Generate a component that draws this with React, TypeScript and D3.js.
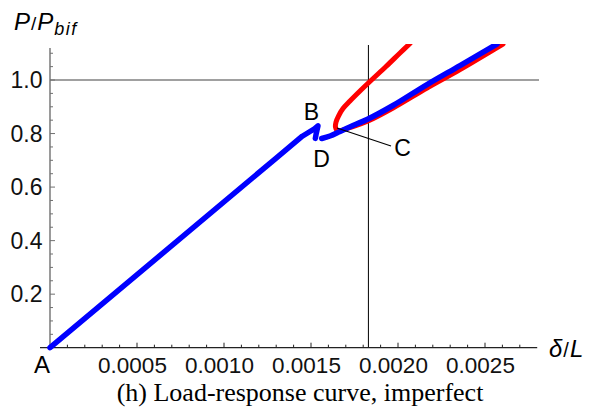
import React from "react";
import * as d3 from "d3";

// values
const xMajorTicks = [0.0005, 0.001, 0.0015, 0.002, 0.0025];
const xTickLabels = ["0.0005", "0.0010", "0.0015", "0.0020", "0.0025"];
const yMajorTicks = [0.2, 0.4, 0.6, 0.8, 1.0];
const yTickLabels = ["0.2", "0.4", "0.6", "0.8", "1.0"];

// blue: primary path A -> B, then snap back to D
const bluePreX = [0, 0.0013, 0.00145, 0.00152, 0.00154, 0.00153, 0.001525];
const bluePreY = [0, 0.7085, 0.79, 0.818, 0.829, 0.8, 0.782];
// blue: after D, through C and beyond
const bluePostX = [0.0015615, 0.0016092, 0.0016667, 0.0017414, 0.0018276, 0.0019713, 0.0021667, 0.0023563, 0.002569];
const bluePostY = [0.7815, 0.7908, 0.8076, 0.83, 0.8543, 0.9048, 0.9832, 1.0542, 1.1345];
// red: secondary branch, upper part down to the nose at C, then the lower part
const redX = [
  0.002069, 0.0020115, 0.001931, 0.0018448, 0.0017816, 0.0017241, 0.0016839, 0.001658, 0.0016437, 0.0016408,
  0.0016523, 0.0017414, 0.0018276, 0.0019713, 0.0021667, 0.0023563, 0.0026034,
];
const redY = [
  1.1364, 1.1009, 1.0504, 0.9981, 0.9589, 0.9216, 0.8935, 0.8655, 0.8431, 0.8244,
  0.8114, 0.8262, 0.8468, 0.8954, 0.9701, 1.0392, 1.1345,
];

const criticalX = 0.00183;
const refLoad = 1.0;

const W = 601;
const H = 416;

export default function App() {
  const x = d3.scaleLinear().domain([0, 0.0028]).range([50, 537.2]);
  const y = d3.scaleLinear().domain([0, 1.12]).range([347.7, 47.9]);

  const xMinor = d3.range(1, 28).map((i) => i * 0.0001);
  const yMinor = d3.range(1, 23).map((i) => i * 0.05);

  const pts = (xs: number[], ys: number[]) => xs.map((v, i) => [v, ys[i]] as [number, number]);
  const lin = d3.line<[number, number]>().x((d) => x(d[0])).y((d) => y(d[1]));
  const smooth = d3
    .line<[number, number]>()
    .x((d) => x(d[0]))
    .y((d) => y(d[1]))
    .curve(d3.curveCatmullRom.alpha(0.5));

  const x0 = x(0);
  const y0 = y(0);
  const sans = "Liberation Sans, Arial, sans-serif";

  return (
    <svg
      width={W}
      height={H}
      style={{ position: "absolute", left: 0, top: 0, background: "#fff" }}
      fontFamily={sans}
    >
      <defs>
        <clipPath id="plot">
          <rect x={x0 - 4} y={44} width={x(0.0028) - x0 + 4} height={y0 - 44 + 4} />
        </clipPath>
      </defs>

      {/* reference lines */}
      <line x1={x0} x2={539} y1={y(refLoad)} y2={y(refLoad)} stroke="#808080" strokeWidth={1.5} />
      <line x1={x(criticalX)} x2={x(criticalX)} y1={45} y2={y0} stroke="#000" strokeWidth={1} />

      {/* axes */}
      <line x1={40} x2={x(0.0028)} y1={y0} y2={y0} stroke="#222" strokeWidth={1.2} />
      <line x1={x0} x2={x0} y1={y(1.12)} y2={y0 + 1} stroke="#707070" strokeWidth={1.4} />

      {xMinor.map((t) => {
        const major = xMajorTicks.some((m) => Math.abs(m - t) < 1e-9);
        return (
          <line key={t} x1={x(t)} x2={x(t)} y1={y0} y2={y0 - (major ? 5 : 3)} stroke="#222" strokeWidth={1} />
        );
      })}
      {yMinor.map((t) => {
        const major = yMajorTicks.some((m) => Math.abs(m - t) < 1e-9);
        return (
          <line key={t} x1={x0} x2={x0 + (major ? 5 : 3)} y1={y(t)} y2={y(t)} stroke="#707070" strokeWidth={1} />
        );
      })}

      {xMajorTicks.map((t, i) => (
        <text key={t} x={x(t) - 4.5} y={372.5} textAnchor="middle" fontSize={22.5} fill="#111">
          {xTickLabels[i]}
        </text>
      ))}
      {yMajorTicks.map((t, i) => (
        <text key={t} x={42.5} y={y(t) + 8} textAnchor="end" fontSize={23} fill="#111">
          {yTickLabels[i]}
        </text>
      ))}

      {/* curves */}
      <g clipPath="url(#plot)" fill="none" strokeLinecap="round" strokeLinejoin="round">
        <path d={smooth(pts(redX, redY)) || ""} stroke="#ff0000" strokeWidth={5} />
        <path d={lin(pts(bluePreX, bluePreY)) || ""} stroke="#0000ff" strokeWidth={5.5} />
        <path d={smooth(pts(bluePostX, bluePostY)) || ""} stroke="#0000ff" strokeWidth={5.5} />
      </g>

      {/* C leader */}
      <line x1={337} y1={128} x2={391} y2={146} stroke="#000" strokeWidth={1.3} />

      {/* point labels */}
      <text x={42} y={373} textAnchor="middle" fontSize={24} fill="#000">A</text>
      <text x={311.5} y={120} textAnchor="middle" fontSize={23} fill="#000">B</text>
      <text x={402.5} y={155.5} textAnchor="middle" fontSize={23} fill="#000">C</text>
      <text x={321.5} y={167} textAnchor="middle" fontSize={23} fill="#000">D</text>

      {/* axis titles */}
      <text x={14} y={30} fontSize={24} fill="#000">
        <tspan fontStyle="italic">P</tspan>
        <tspan fontSize={19} dx={1}>/</tspan>
        <tspan fontStyle="italic" dx={1}>P</tspan>
        <tspan fontStyle="italic" fontSize={18} dy={5} dx={1} letterSpacing={1.5}>bif</tspan>
      </text>
      <text x={549} y={357} fontSize={24} fill="#000">
        <tspan fontStyle="italic">δ</tspan>
        <tspan fontSize={20} dx={1}>/</tspan>
        <tspan fontStyle="italic" dx={1}>L</tspan>
      </text>

      {/* caption */}
      <text x={300} y={401} textAnchor="middle" fontSize={26} fontFamily="Liberation Serif, Times New Roman, serif" fill="#000">
        (h) Load-response curve, imperfect
      </text>
    </svg>
  );
}
